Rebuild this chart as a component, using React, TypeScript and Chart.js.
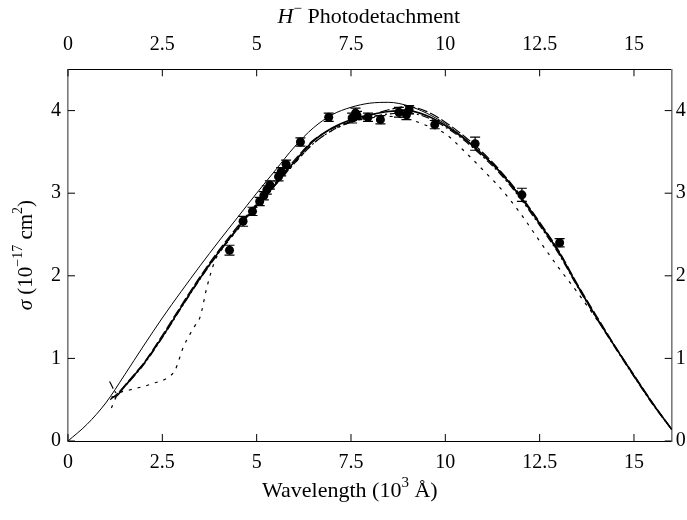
import React, { useEffect, useRef } from "react";
import { Chart, registerables } from "chart.js";

Chart.register(...registerables);

const FONT = '"Liberation Serif", "Times New Roman", serif';

// Tick labels
const tickValuesX = [0, 2.5, 5, 7.5, 10, 12.5, 15];
const tickValuesY = [0, 1, 2, 3, 4];

// Experimental points (wavelength in 10^3 Å, sigma in 1e-17 cm^2, error)
const expX = [4.28, 4.64, 4.89, 5.08, 5.19, 5.27, 5.35, 5.58, 5.65, 5.78, 6.16, 6.91, 7.53, 7.62, 7.66, 7.95, 8.28, 8.77, 8.97, 9.04, 9.72, 10.79, 12.03, 13.03];
const expY = [2.31, 2.66, 2.78, 2.90, 2.97, 3.04, 3.10, 3.20, 3.26, 3.35, 3.62, 3.92, 3.91, 3.97, 3.94, 3.92, 3.89, 3.98, 3.95, 4.01, 3.83, 3.60, 2.98, 2.40];
const expErr = [0.06, 0.06, 0.05, 0.05, 0.05, 0.05, 0.05, 0.05, 0.05, 0.05, 0.05, 0.05, 0.06, 0.06, 0.05, 0.05, 0.05, 0.06, 0.06, 0.05, 0.05, 0.08, 0.08, 0.05];

// Thin solid curve from the origin
const exactX = [0, 0.5, 1, 1.5, 2, 2.5, 3, 3.5, 4, 4.5, 5, 5.5, 6, 6.5, 7, 7.5, 8, 8.5, 9, 9.5, 10, 10.5, 11, 11.5, 12, 12.5, 13, 13.5, 14, 14.5, 15, 15.5, 16];
const exactY = [0, 0.2, 0.46, 0.8, 1.15, 1.49, 1.81, 2.12, 2.42, 2.71, 3.0, 3.28, 3.56, 3.79, 3.95, 4.04, 4.09, 4.1, 4.06, 3.97, 3.84, 3.67, 3.47, 3.24, 2.96, 2.64, 2.3, 1.89, 1.5, 1.14, 0.79, 0.45, 0.14];

// Solid (medium) curve
const curveAX = [1.15, 1.3, 1.5, 1.8, 2, 2.5, 3, 3.5, 4, 4.5, 5, 5.5, 6, 6.5, 7, 7.5, 8, 8.5, 9, 9.5, 10, 10.5, 11, 11.5, 12, 12.5, 13, 13.5, 14, 14.5, 15, 15.5, 16];
const curveAY = [0.53, 0.55, 0.66, 0.82, 0.93, 1.26, 1.62, 1.97, 2.29, 2.58, 2.85, 3.11, 3.38, 3.63, 3.79, 3.89, 3.95, 3.99, 4.0, 3.94, 3.82, 3.66, 3.46, 3.23, 2.95, 2.63, 2.29, 1.88, 1.5, 1.14, 0.79, 0.45, 0.14];

// Long dashed curve
const curveBX = [1.12, 1.3, 1.5, 1.8, 2, 2.5, 3, 3.5, 4, 4.5, 5, 5.5, 6, 6.5, 7, 7.5, 8, 8.5, 9, 9.5, 10, 10.5, 11, 11.5, 12, 12.5, 13, 13.5, 14, 14.5, 15, 15.5, 16];
const curveBY = [0.5, 0.57, 0.67, 0.83, 0.94, 1.28, 1.64, 1.99, 2.31, 2.6, 2.87, 3.13, 3.4, 3.64, 3.78, 3.87, 3.94, 4.01, 4.05, 3.99, 3.86, 3.69, 3.49, 3.25, 2.97, 2.65, 2.31, 1.9, 1.52, 1.15, 0.8, 0.46, 0.14];

// Dash-dot curve
const curveCX = [1.1, 1.3, 1.5, 1.8, 2, 2.5, 3, 3.5, 4, 4.5, 5, 5.5, 6, 6.5, 7, 7.5, 8, 8.5, 9, 9.5, 10, 10.5, 11, 11.5, 12, 12.5, 13, 13.5, 14, 14.5, 15, 15.5, 16];
const curveCY = [0.72, 0.58, 0.66, 0.81, 0.92, 1.25, 1.61, 1.96, 2.28, 2.57, 2.84, 3.1, 3.36, 3.6, 3.76, 3.86, 3.92, 3.96, 3.97, 3.92, 3.8, 3.64, 3.44, 3.21, 2.93, 2.61, 2.27, 1.87, 1.49, 1.13, 0.78, 0.44, 0.14];

// Dotted curve
const curveDX = [1.15, 1.3, 1.65, 2.0, 2.27, 2.62, 2.84, 3.06, 3.37, 3.5, 3.68, 3.9, 4.03, 4.5, 5, 5.5, 6, 6.5, 7, 7.5, 8, 8.5, 9, 9.5, 10, 10.5, 11, 11.5, 12, 12.5, 13, 13.5, 14, 14.5, 15, 15.5, 16];
const curveDY = [0.4, 0.55, 0.62, 0.66, 0.7, 0.76, 0.86, 1.14, 1.4, 1.5, 1.86, 2.19, 2.29, 2.56, 2.84, 3.1, 3.36, 3.6, 3.76, 3.86, 3.91, 3.93, 3.9, 3.82, 3.72, 3.51, 3.28, 3.04, 2.75, 2.42, 2.1, 1.8, 1.48, 1.14, 0.79, 0.45, 0.14];

const toXY = (xs: number[], ys: number[]) => xs.map((x, i) => ({ x, y: ys[i] }));

type Seg = { t: string; it?: boolean; sup?: boolean };

function drawRich(ctx: CanvasRenderingContext2D, segs: Seg[], cx: number, cy: number, size: number) {
  const font = (s: Seg) => `${s.it ? "italic " : ""}${s.sup ? Math.round(size * 0.68) : size}px ${FONT}`;
  let total = 0;
  for (const s of segs) {
    ctx.font = font(s);
    total += ctx.measureText(s.t).width;
  }
  let x = cx - total / 2;
  ctx.textBaseline = "middle";
  ctx.textAlign = "left";
  ctx.fillStyle = "#000";
  for (const s of segs) {
    ctx.font = font(s);
    ctx.fillText(s.t, x, s.sup ? cy - size * 0.36 : cy);
    x += ctx.measureText(s.t).width;
  }
}

const decorations = {
  id: "decorations",
  afterDatasetsDraw(chart: any) {
    const { ctx, chartArea: a, scales } = chart;
    ctx.save();
    const xs = scales.x;
    const ys = scales.y;
    ctx.strokeStyle = "#000";
    ctx.lineWidth = 1.2;
    expX.forEach((xv, i) => {
      const px = xs.getPixelForValue(xv);
      const top = ys.getPixelForValue(expY[i] + expErr[i]);
      const bot = ys.getPixelForValue(expY[i] - expErr[i]);
      ctx.beginPath();
      ctx.moveTo(px, top);
      ctx.lineTo(px, bot);
      ctx.moveTo(px - 5, top);
      ctx.lineTo(px + 5, top);
      ctx.moveTo(px - 5, bot);
      ctx.lineTo(px + 5, bot);
      ctx.stroke();
    });
    const L = 7;
    ctx.lineWidth = 1;
    ctx.strokeStyle = "#000";
    for (const id of ["x", "x2"]) {
      const s = scales[id];
      s.ticks.forEach((t: any) => {
        const p = s.getPixelForValue(t.value);
        ctx.beginPath();
        if (id === "x") {
          ctx.moveTo(p, a.bottom);
          ctx.lineTo(p, a.bottom - L);
        } else {
          ctx.moveTo(p, a.top);
          ctx.lineTo(p, a.top + L);
        }
        ctx.stroke();
      });
    }
    for (const id of ["y", "y2"]) {
      const s = scales[id];
      s.ticks.forEach((t: any) => {
        const p = s.getPixelForValue(t.value);
        ctx.beginPath();
        if (id === "y") {
          ctx.moveTo(a.left, p);
          ctx.lineTo(a.left + L, p);
        } else {
          ctx.moveTo(a.right, p);
          ctx.lineTo(a.right - L, p);
        }
        ctx.stroke();
      });
    }
    ctx.restore();
  },
  afterDraw(chart: any) {
    const { ctx, chartArea: a } = chart;
    ctx.save();
    const cx = (a.left + a.right) / 2;
    drawRich(ctx, [{ t: "H", it: true }, { t: "\u2212", sup: true }, { t: " Photodetachment" }], cx - 1, 17, 22);
    drawRich(ctx, [{ t: "Wavelength (10" }, { t: "3", sup: true }, { t: " \u00C5)" }], cx - 20, 491, 22);
    ctx.translate(26, (a.top + a.bottom) / 2);
    ctx.rotate(-Math.PI / 2);
    drawRich(ctx, [{ t: "\u03C3", it: true }, { t: " (10" }, { t: "\u221217", sup: true }, { t: " cm" }, { t: "2", sup: true }, { t: ")" }], 0, 0, 21);
    ctx.restore();
  },
};

export default function App() {
  const ref = useRef<HTMLCanvasElement | null>(null);

  useEffect(() => {
    document.body.style.margin = "0";
    document.body.style.overflow = "hidden";
    const canvas = ref.current;
    if (!canvas) return;
    const tickFont = { family: FONT, size: 20 };
    const setX = (s: any) => {
      s.ticks = tickValuesX.map((v) => ({ value: v }));
    };
    const setY = (s: any) => {
      s.ticks = tickValuesY.map((v) => ({ value: v }));
    };
    const lineDs = (label: string, xs: number[], ys: number[], width: number, dash: number[]) => ({
      label,
      data: toXY(xs, ys),
      showLine: true,
      borderColor: "#000",
      borderWidth: width,
      borderDash: dash,
      pointRadius: 0,
      fill: false,
      cubicInterpolationMode: "monotone" as const,
      xAxisID: "x",
      yAxisID: "y",
    });
    const chart = new Chart(canvas, {
      type: "scatter",
      data: {
        datasets: [
          lineDs("exact", exactX, exactY, 1, []),
          lineDs("A", curveAX, curveAY, 1.6, []),
          lineDs("B", curveBX, curveBY, 1.2, [10, 3]),
          lineDs("C", curveCX, curveCY, 1.2, [8, 3, 2, 3]),
          lineDs("D", curveDX, curveDY, 1.2, [3, 6]),
          {
            label: "experiment",
            data: toXY(expX, expY),
            showLine: false,
            pointRadius: 4.5,
            pointBackgroundColor: "#000",
            pointBorderWidth: 0,
            xAxisID: "x",
            yAxisID: "y",
          } as any,
        ],
      },
      options: {
        animation: false,
        responsive: false,
        layout: { padding: 0 },
        plugins: { legend: { display: false }, tooltip: { enabled: false }, title: { display: false } },
        scales: {
          x: {
            type: "linear",
            position: "bottom",
            min: 0,
            max: 16,
            afterBuildTicks: setX,
            afterFit: (s: any) => {
              s.height = 79;
            },
            ticks: { font: tickFont, color: "#000", padding: 10, maxRotation: 0, autoSkip: false, callback: (v: any) => String(v) },
            grid: { display: false, drawTicks: false },
            border: { display: true, color: "#000", width: 1 },
          },
          x2: {
            type: "linear",
            position: "top",
            min: 0,
            max: 16,
            afterBuildTicks: setX,
            afterFit: (s: any) => {
              s.height = 69.3;
            },
            ticks: { font: tickFont, color: "#000", padding: 13, maxRotation: 0, autoSkip: false, callback: (v: any) => String(v) },
            grid: { display: false, drawTicks: false },
            border: { display: true, color: "#000", width: 1 },
          },
          y: {
            type: "linear",
            position: "left",
            min: 0,
            max: 4.5,
            afterBuildTicks: setY,
            afterFit: (s: any) => {
              s.width = 68;
            },
            ticks: { font: tickFont, color: "#000", padding: 7, autoSkip: false, callback: (v: any) => String(v) },
            grid: { display: false, drawTicks: false },
            border: { display: true, color: "#7a7a7a", width: 1.6 },
          },
          y2: {
            type: "linear",
            position: "right",
            min: 0,
            max: 4.5,
            afterBuildTicks: setY,
            afterFit: (s: any) => {
              s.width = 15.3;
            },
            ticks: { font: tickFont, color: "#000", padding: 4, autoSkip: false, callback: (v: any) => String(v) },
            grid: { display: false, drawTicks: false },
            border: { display: true, color: "#7a7a7a", width: 1.6 },
          },
        },
      },
      plugins: [decorations],
    });
    return () => chart.destroy();
  }, []);

  return (
    <div style={{ width: 687, height: 520, position: "relative" }}>
      <canvas ref={ref} width={687} height={520} style={{ display: "block", width: 687, height: 520 }} />
    </div>
  );
}
